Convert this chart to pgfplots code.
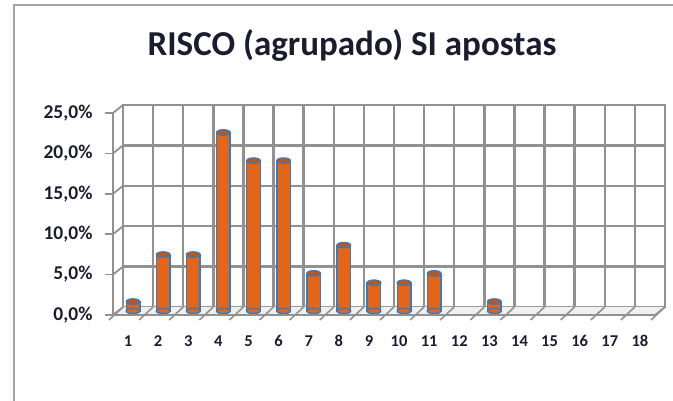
\documentclass[border=0pt]{standalone}
\usepackage{pgfplots}
\usepackage{pgfplotstable}
\pgfplotsset{compat=1.18}
\usepackage{fontspec}
\setmainfont{Carlito}
\definecolor{barorange}{RGB}{228,100,24}
\definecolor{barblue}{RGB}{56,122,190}
\definecolor{gridgray}{RGB}{145,145,145}
\definecolor{labcol}{RGB}{28,28,48}
\definecolor{framegray}{RGB}{165,165,165}
\pgfplotstableread{
x y base
1 1.16 0
2 6.98 0
3 6.98 0
4 22.09 0
5 18.60 0
6 18.60 0
7 4.65 0
8 8.14 0
9 3.49 0
10 3.49 0
11 4.65 0
13 1.16 0
}\risco
\begin{document}
\begin{tikzpicture}[x=1pt,y=1pt]
\path[use as bounding box] (0,0) rectangle (673,401);
\draw[line width=2pt, framegray] (14,0) -- (14,396) -- (673,396);
\node[font=\fontsize{35}{40}\selectfont\bfseries, text=labcol] at (352,356) {RISCO (agrupado) SI apostas};
% back wall
\begin{axis}[at={(123pt,94pt)}, anchor=south west, scale only axis, width=542pt, height=202pt,
  xmin=0.5, xmax=18.5, ymin=0, ymax=25,
  xtick={0.5,1.5,...,18.5}, ytick={0,5,...,25}, xticklabels={}, yticklabels={},
  major tick length=0pt, grid=major,
  major grid style={line width=2.4pt, gridgray},
  axis line style={line width=2.4pt, gridgray}]
\end{axis}
% floor and side wall
\fill[gray!12] (113,86) -- (655,86) -- (665,94) -- (123,94) -- cycle;
\foreach \k in {0,...,18} {
  \draw[line width=1.6pt, gridgray] ({113+30.111*\k-4},{81}) -- ({123+30.111*\k},94);
}
\foreach \j in {0,...,5} {
  \draw[line width=1.8pt, gridgray] (113,{86+40.4*\j}) -- (123,{94+40.4*\j});
}
\draw[line width=1.6pt, gridgray] (655,86) -- (665,94);
% bars
\begin{axis}[at={(118pt,90pt)}, anchor=south west, scale only axis, width=542pt, height=202pt,
  xmin=0.5, xmax=18.5, ymin=0, ymax=25, axis lines=none, clip=false]
\addplot[only marks, mark=*, mark size=6.8pt, mark options={yscale=0.4, fill=barorange, draw=barblue, line width=1.4pt}] table[x=x, y=base] {\risco};
\addplot[ybar, bar width=0.45, fill=barorange, draw=barblue, line width=1.4pt] table[x=x, y=y] {\risco};
\addplot[only marks, mark=*, mark size=6.8pt, mark options={yscale=0.4, fill=barorange!85!black, draw=barblue, line width=1.4pt}] table[x=x, y=y] {\risco};
\end{axis}
% front axis
\begin{axis}[at={(113pt,86pt)}, anchor=south west, scale only axis, width=542pt, height=202pt,
  xmin=0.5, xmax=18.5, ymin=0, ymax=25,
  axis x line*=bottom, axis y line*=left,
  axis line style={line width=1.8pt, gridgray, -},
  xtick={1,...,18}, ytick={0,5,...,25},
  /pgf/number format/assume math mode=true,
  yticklabels={{0,0\%},{5,0\%},{10,0\%},{15,0\%},{20,0\%},{25,0\%}},
  x tick style={draw=none},
  y tick style={line width=1.6pt, gridgray},
  tick align=outside, major tick length=8pt,
  yticklabel style={font=\fontsize{19.5}{22}\selectfont\bfseries, text=labcol, xshift=-9pt},
  xticklabel style={font=\fontsize{16.5}{20}\selectfont\bfseries, text=labcol, yshift=-9pt}]
\end{axis}
\end{tikzpicture}
\end{document}
